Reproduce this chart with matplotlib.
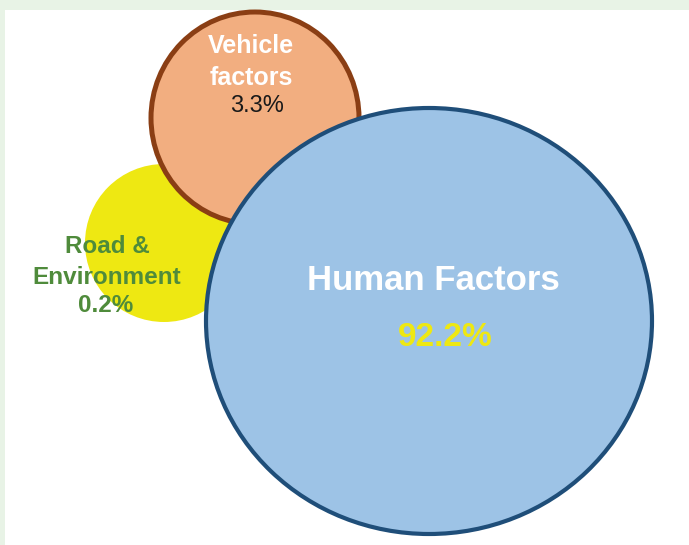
import matplotlib
matplotlib.use("Agg")
import matplotlib.pyplot as plt
from matplotlib.patches import Ellipse, Rectangle

# data
labels = ["Road &\nEnvironment", "Vehicle\nfactors", "Human Factors"]
values = [0.2, 3.3, 92.2]

# layout in pixel coordinates (x, y, width, height)
shapes = [
    (164, 243, 158, 158),
    (255, 118, 208, 212),
    (429, 321, 446, 426),
]
fills = ["#EEE812", "#F2AE80", "#9DC3E6"]
edges = ["none", "#8A3E14", "#1F4E79"]
edge_widths = [0, 3.6, 3.0]


def main():
    width = 689
    height = 545
    ppi = 100
    fig = plt.figure(figsize=(width / ppi, height / ppi), dpi=ppi)
    fig.patch.set_facecolor("#E8F3E6")
    ax = fig.add_axes([0, 0, 1, 1])
    ax.set_xlim(0, width)
    ax.set_ylim(height, 0)
    ax.axis("off")

    # white panel inside the green frame
    ax.add_patch(Rectangle((5, 10), width - 5, height - 10, facecolor="white", edgecolor="none", zorder=0))

    for (cx, cy, w, h), fc, ec, lw in zip(shapes, fills, edges, edge_widths):
        ax.add_patch(Ellipse((cx, cy), w, h, facecolor=fc, edgecolor=ec, linewidth=lw, zorder=1))

    font = "Liberation Sans"

    # Road & Environment
    ax.text(107, 262, labels[0], ha="center", va="center", fontsize=17.5, fontweight="bold",
            color="#4F8B3B", family=font, linespacing=1.45, zorder=3)
    ax.text(106, 305, f"{values[0]}%", ha="center", va="center", fontsize=17.5, fontweight="bold",
            color="#4F8B3B", family=font, zorder=3)

    # Vehicle factors
    ax.text(251, 62, labels[1], ha="center", va="center", fontsize=18, fontweight="bold",
            color="white", family=font, linespacing=1.4, zorder=3)
    ax.text(257, 106, f"{values[1]}%", ha="center", va="center", fontsize=17,
            color="#1A1A1A", family=font, zorder=3)

    # Human factors
    ax.text(433, 280, labels[2], ha="center", va="center", fontsize=25, fontweight="bold",
            color="white", family=font, zorder=3)
    ax.text(445, 337, f"{values[2]}%", ha="center", va="center", fontsize=24, fontweight="bold",
            color="#EEE812", family=font, zorder=3)

    fig.savefig("out.png", dpi=ppi, facecolor=fig.get_facecolor())


if __name__ == "__main__":
    main()
